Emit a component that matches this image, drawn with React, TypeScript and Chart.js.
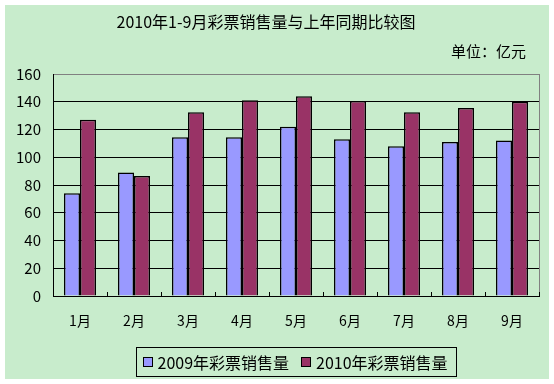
import React, { useEffect, useRef } from "react";
import { Chart, registerables } from "chart.js";

Chart.register(...registerables);

const categories = ["1月", "2月", "3月", "4月", "5月", "6月", "7月", "8月", "9月"];
const sales2009 = [74, 89, 114.5, 114.5, 122, 113, 108, 111, 112];
const sales2010 = [127, 86.5, 132.5, 141, 144, 140.5, 132.5, 135.5, 140];
const seriesLabels = ["2009年彩票销售量", "2010年彩票销售量"];
const seriesColors = ["#9999FF", "#993366"];
const yMin = 0;
const yMax = 160;
const yStep = 20;
const titleText = "2010年1-9月彩票销售量与上年同期比较图";
const unitText = "单位：亿元";

const FONT = '"Noto Sans CJK SC", "Noto Sans", sans-serif';
const BG = "#C8ECCC";

const decorPlugin = {
  id: "decor",
  beforeDraw(chart: any) {
    const { ctx, width, height } = chart;
    ctx.save();
    ctx.fillStyle = "#FFFFFF";
    ctx.fillRect(0, 0, width, height);
    ctx.fillStyle = BG;
    ctx.fillRect(5, 5, width - 10, height - 10);
    ctx.restore();
  },
  beforeDatasetsDraw(chart: any) {
    const { ctx, chartArea } = chart;
    ctx.save();
    ctx.strokeStyle = "#808080";
    ctx.lineWidth = 1;
    ctx.beginPath();
    ctx.moveTo(Math.round(chartArea.right) + 0.5, chartArea.top);
    ctx.lineTo(Math.round(chartArea.right) + 0.5, chartArea.bottom);
    ctx.stroke();
    ctx.restore();
  },
  afterDatasetsDraw(chart: any) {
    const { ctx, chartArea } = chart;
    const n = categories.length;
    const w = (chartArea.right - chartArea.left) / n;
    ctx.save();
    ctx.strokeStyle = "#000";
    ctx.lineWidth = 1;
    for (let k = 1; k <= n; k++) {
      const x = Math.round(chartArea.left + k * w) + 0.5;
      ctx.beginPath();
      ctx.moveTo(x, chartArea.bottom);
      ctx.lineTo(x, chartArea.bottom - 4);
      ctx.stroke();
    }
    // title
    ctx.fillStyle = "#000";
    ctx.font = `16px ${FONT}`;
    ctx.textAlign = "center";
    ctx.textBaseline = "middle";
    ctx.fillText(titleText, 266, 22);
    ctx.font = `15px ${FONT}`;
    ctx.textAlign = "right";
    ctx.fillText(unitText, 526, 51);

    // legend
    ctx.font = `16px ${FONT}`;
    const t1 = ctx.measureText(seriesLabels[0]).width;
    const t2 = ctx.measureText(seriesLabels[1]).width;
    const sw = 10;
    const boxW = 6 + sw + 5 + t1 + 12 + sw + 5 + t2 + 9;
    const cx = (chartArea.left + chartArea.right) / 2;
    const bx = Math.round(cx - boxW / 2) + 0.5;
    const by = 347.5;
    const bh = 29;
    ctx.strokeStyle = "#000";
    ctx.strokeRect(bx, by, Math.round(boxW), bh);
    const cy = by + bh / 2;
    let x = bx + 6;
    ctx.textAlign = "left";
    for (let i = 0; i < 2; i++) {
      ctx.fillStyle = seriesColors[i];
      ctx.fillRect(Math.round(x), Math.round(cy - sw / 2), sw, sw);
      ctx.strokeStyle = "#000";
      ctx.strokeRect(Math.round(x) + 0.5, Math.round(cy - sw / 2) + 0.5, sw - 1, sw - 1);
      x += sw + 5;
      ctx.fillStyle = "#000";
      ctx.fillText(seriesLabels[i], x, cy + 1);
      x += (i === 0 ? t1 : t2) + 12;
    }
    ctx.restore();
  },
};

export default function App() {
  const ref = useRef<HTMLCanvasElement | null>(null);
  useEffect(() => {
    if (!ref.current) return;
    const chart = new Chart(ref.current, {
      type: "bar",
      data: {
        labels: categories,
        datasets: [
          {
            label: seriesLabels[0],
            data: sales2009,
            backgroundColor: seriesColors[0],
            borderColor: "#000",
            borderWidth: 1.5,
            categoryPercentage: 0.593,
            barPercentage: 1,
          },
          {
            label: seriesLabels[1],
            data: sales2010,
            backgroundColor: seriesColors[1],
            borderColor: "#000",
            borderWidth: 1.5,
            categoryPercentage: 0.593,
            barPercentage: 1,
          },
        ],
      },
      options: {
        animation: false,
        responsive: true,
        maintainAspectRatio: false,
        layout: { padding: { left: 0, top: 74, right: 15, bottom: 0 } },
        plugins: {
          legend: { display: false },
          title: { display: false },
          tooltip: { enabled: false },
        },
        scales: {
          x: {
            grid: { display: true, drawOnChartArea: false, drawTicks: false },
            border: { display: true, color: "#000", width: 1 },
            ticks: { color: "#000", font: { family: FONT, size: 14 }, padding: 16 },
            afterFit(scale: any) {
              scale.height = 88;
            },
          },
          y: {
            min: yMin,
            max: yMax,
            ticks: {
              stepSize: yStep,
              color: "#000",
              font: { family: FONT, size: 15 },
              padding: 12,
            },
            grid: {
              color: (c: any) => (c.tick && c.tick.value === yMax ? "#808080" : "#000"),
              lineWidth: 1,
              drawTicks: false,
            },
            border: { display: true, color: "#000", width: 1 },
            afterFit(scale: any) {
              scale.width = 53;
            },
          },
        },
      },
      plugins: [decorPlugin],
    });
    return () => chart.destroy();
  }, []);
  return (
    <div style={{ position: "fixed", left: 0, top: 0, width: 554, height: 384 }}>
      <canvas ref={ref} />
    </div>
  );
}
